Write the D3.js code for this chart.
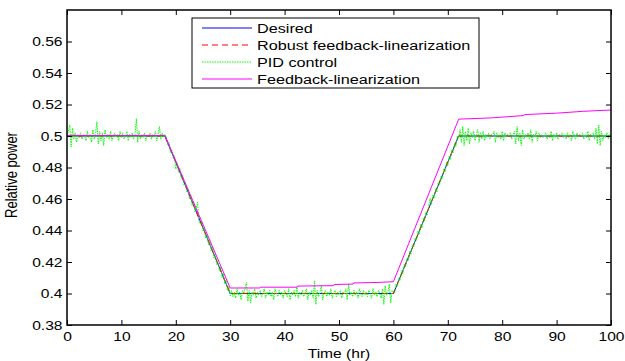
<!DOCTYPE html>
<html>
<head>
<meta charset="utf-8">
<script src="https://cdnjs.cloudflare.com/ajax/libs/d3/7.8.5/d3.min.js"></script>
<style>
  body { margin: 0; background: #fff; }
  svg { display: block; font-family: Arial, "Liberation Sans", sans-serif; }
</style>
</head>
<body>
<div id="vis"></div>
<script>
// series
var desired = [[0, 0.5], [18, 0.5], [30, 0.4], [60, 0.4], [72, 0.5], [100, 0.5]];
var robust = [[0, 0.5], [18, 0.5], [30, 0.4], [60, 0.4], [72, 0.5], [100, 0.5]];
var feedbackLin = [[0, 0.5003], [18, 0.5003], [30, 0.4035], [35.5, 0.4035], [35.6, 0.404], [42.3, 0.404],
    [42.4, 0.4047], [49, 0.405], [49.1, 0.4057], [52.6, 0.406], [52.7, 0.4067], [57, 0.407], [60, 0.4075],
    [72, 0.5107], [78, 0.5115], [84, 0.513], [84.1, 0.5136], [90, 0.5145], [95, 0.5157], [100, 0.5165]];

// PID output, sampled every 0.25 hr from t = 0
var pidStep = 0.25;
var pid = [
    // t 0 - 18
    0.5, 0.503, 0.507, 0.493, 0.505, 0.498, 0.502, 0.496, 0.501, 0.499,
    0.502, 0.498, 0.501, 0.5, 0.497, 0.503, 0.499, 0.501, 0.496, 0.504,
    0.498, 0.502, 0.509, 0.495, 0.503, 0.497, 0.502, 0.494, 0.504, 0.499,
    0.501, 0.498, 0.503, 0.497, 0.5, 0.502, 0.499, 0.501, 0.497, 0.503,
    0.499, 0.502, 0.498, 0.5, 0.503, 0.497, 0.501, 0.499, 0.502, 0.498,
    0.501, 0.511, 0.496, 0.503, 0.498, 0.501, 0.499, 0.502, 0.497, 0.501,
    0.5, 0.502, 0.498, 0.501, 0.499, 0.503, 0.497, 0.501, 0.506, 0.498,
    0.502, 0.499, 0.501,
    // t 18.25 - 30
    0.4995, 0.4945, 0.4960, 0.4895, 0.4915, 0.4860, 0.4875, 0.4790, 0.4830, 0.4770,
    0.4795, 0.4730, 0.4750, 0.4690, 0.4705, 0.4645, 0.4665, 0.4600, 0.4625, 0.4560,
    0.4585, 0.4520, 0.4545, 0.4580, 0.4460, 0.4440, 0.4460, 0.4395, 0.4420, 0.4350,
    0.4375, 0.4310, 0.4335, 0.4270, 0.4295, 0.4225, 0.4250, 0.4185, 0.4210, 0.4145,
    0.4170, 0.4100, 0.4125, 0.4060, 0.4085, 0.4020, 0.4045, 0.3985,
    // t 30.25 - 60
    0.402, 0.398, 0.401, 0.397, 0.403, 0.399, 0.401, 0.396, 0.402, 0.4,
    0.404, 0.407, 0.395, 0.402, 0.394, 0.401, 0.399, 0.403, 0.397, 0.401,
    0.399, 0.402, 0.398, 0.4, 0.403, 0.397, 0.401, 0.399, 0.402, 0.398,
    0.401, 0.396, 0.403, 0.4, 0.398, 0.402, 0.399, 0.401, 0.397, 0.402,
    0.4, 0.398, 0.403, 0.396, 0.401, 0.399, 0.402, 0.398, 0.404, 0.397,
    0.401, 0.399, 0.402, 0.398, 0.4, 0.403, 0.396, 0.401, 0.399, 0.402,
    0.397, 0.408, 0.393, 0.402, 0.398, 0.401, 0.405, 0.396, 0.4, 0.402,
    0.398, 0.401, 0.399, 0.403, 0.397, 0.4, 0.402, 0.398, 0.401, 0.399,
    0.402, 0.397, 0.401, 0.4, 0.403, 0.396, 0.406, 0.399, 0.401, 0.398,
    0.402, 0.399, 0.401, 0.397, 0.403, 0.4, 0.398, 0.402, 0.399, 0.401,
    0.398, 0.402, 0.4, 0.397, 0.403, 0.399, 0.401, 0.398, 0.402, 0.4,
    0.397, 0.403, 0.393, 0.405, 0.399, 0.401, 0.406, 0.394, 0.402, 0.401,
    // t 60.25 - 72
    0.4005, 0.4060, 0.4045, 0.4100, 0.4085, 0.4145, 0.4125, 0.4185, 0.4170, 0.4225,
    0.4210, 0.4270, 0.4250, 0.4310, 0.4295, 0.4350, 0.4335, 0.4395, 0.4375, 0.4440,
    0.4415, 0.4480, 0.4460, 0.4520, 0.4500, 0.4560, 0.4605, 0.4565, 0.4625, 0.4605,
    0.4665, 0.4645, 0.4705, 0.4690, 0.4745, 0.4730, 0.4790, 0.4770, 0.4835, 0.4810,
    0.4870, 0.4850, 0.4915, 0.4895, 0.4955, 0.4935, 0.5000, 0.4985,
    // t 72.25 - 100
    0.504, 0.496, 0.506, 0.494, 0.503, 0.497, 0.505, 0.495, 0.502, 0.499,
    0.503, 0.497, 0.501, 0.504, 0.496, 0.502, 0.498, 0.503, 0.497, 0.501,
    0.499, 0.502, 0.498, 0.501, 0.5, 0.503, 0.496, 0.502, 0.499, 0.501,
    0.498, 0.503, 0.497, 0.502, 0.499, 0.501, 0.5, 0.502, 0.498, 0.501,
    0.503, 0.495, 0.506, 0.497, 0.502, 0.494, 0.504, 0.498, 0.501, 0.499,
    0.502, 0.498, 0.504, 0.496, 0.501, 0.499, 0.503, 0.497, 0.502, 0.499,
    0.501, 0.499, 0.5, 0.502, 0.498, 0.501, 0.499, 0.503, 0.497, 0.501,
    0.499, 0.502, 0.498, 0.501, 0.5, 0.502, 0.499, 0.501, 0.498, 0.502,
    0.499, 0.501, 0.497, 0.503, 0.5, 0.498, 0.502, 0.499, 0.501, 0.5,
    0.502, 0.498, 0.501, 0.499, 0.503, 0.497, 0.501, 0.5, 0.502, 0.498,
    0.505, 0.495, 0.507, 0.494, 0.503, 0.497, 0.501, 0.499, 0.502, 0.498,
    0.501, 0.5
];

var xTicks = [0, 10, 20, 30, 40, 50, 60, 70, 80, 90, 100];
var yTicks = [0.38, 0.4, 0.42, 0.44, 0.46, 0.48, 0.5, 0.52, 0.54, 0.56];
var legendNames = ['Desired', 'Robust feedback-linearization', 'PID control', 'Feedback-linearization'];

var W = 625, H = 361;
var margin = {left: 67, right: 14, top: 10, bottom: 36};
var width = W - margin.left - margin.right;
var height = H - margin.top - margin.bottom;
var stretch = 1.2;   // the original figure is drawn a bit wide

var svg = d3.select('#vis').append('svg')
    .attr('width', W)
    .attr('height', H);

var xScale = d3.scaleLinear().domain([0, 100]).range([0, width]);
var yScale = d3.scaleLinear().domain([0.38, 0.58]).range([height, 0]);

var g = svg.append('g')
    .attr('transform', 'translate(' + margin.left + ',' + margin.top + ')');

g.append('clipPath').attr('id', 'clip')
    .append('rect').attr('width', width).attr('height', height);

var line = d3.line()
    .x(function(d) { return xScale(d[0]); })
    .y(function(d) { return yScale(d[1]); });

var pidPts = pid.map(function(v, i) { return [i * pidStep, v]; });

var series = [
    {data: desired, color: '#0000ff', dash: null, w: 1},
    {data: robust, color: '#ff0000', dash: '6,4', w: 1},
    {data: pidPts, color: '#00ff00', dash: '1.5,1', w: 1},
    {data: feedbackLin, color: '#ff00ff', dash: null, w: 1}
];

var plot = g.append('g').attr('clip-path', 'url(#clip)');
series.forEach(function(s) {
    plot.append('path')
        .datum(s.data)
        .attr('fill', 'none')
        .attr('stroke', s.color)
        .attr('stroke-width', s.w)
        .attr('stroke-dasharray', s.dash)
        .attr('d', line);
});

// axes, matlab style: ticks inside, box all round
var xAxis = d3.axisBottom(xScale).tickValues(xTicks).tickSizeInner(-5).tickSizeOuter(0).tickPadding(7)
    .tickFormat(d3.format('d'));
var yAxis = d3.axisLeft(yScale).tickValues(yTicks).tickSizeInner(-5).tickSizeOuter(0).tickPadding(3.75)
    .tickFormat(function(d) { return d3.format('.2~f')(d); });

var styleAxis = function(a) {
    a.select('.domain').remove();
    a.selectAll('line').attr('stroke', '#000');
    a.selectAll('text').attr('fill', '#000').style('font-size', '13px')
        .style('font-family', 'Arial, "Liberation Sans", sans-serif')
        .attr('transform', 'scale(' + stretch + ',1)');
};

g.append('g').attr('transform', 'translate(0,' + height + ')').call(xAxis).call(styleAxis);
g.append('g').call(yAxis).call(styleAxis);
g.append('g').call(d3.axisTop(xScale).tickValues(xTicks).tickSize(-5).tickFormat(''))
    .call(styleAxis);
g.append('g').attr('transform', 'translate(' + width + ',0)')
    .call(d3.axisRight(yScale).tickValues(yTicks).tickSize(-5).tickFormat(''))
    .call(styleAxis);

g.append('rect')
    .attr('width', width).attr('height', height)
    .attr('fill', 'none').attr('stroke', '#000').attr('stroke-width', 1.5);

svg.append('text')
    .attr('transform', 'translate(' + (margin.left + width / 2) + ',358) scale(' + stretch + ',1)')
    .attr('text-anchor', 'middle').style('font-size', '13px')
    .text('Time (hr)');

svg.append('text')
    .attr('transform', 'translate(17,175) scale(' + stretch + ',1) rotate(-90)')
    .attr('text-anchor', 'middle').style('font-size', '13px')
    .text('Relative power');

// legend
var lg = svg.append('g').attr('transform', 'translate(192,18)');
lg.append('rect').attr('width', 287).attr('height', 70)
    .attr('fill', '#fff').attr('stroke', '#000').attr('stroke-width', 1);
legendNames.forEach(function(name, i) {
    var y = 10 + i * 17;
    lg.append('line')
        .attr('x1', 10).attr('x2', 60).attr('y1', y).attr('y2', y)
        .attr('stroke', series[i].color).attr('stroke-width', 1)
        .attr('stroke-dasharray', i === 2 ? '1.5,1' : series[i].dash);
    lg.append('text')
        .attr('transform', 'translate(65,' + (y + 5) + ') scale(' + stretch + ',1)')
        .style('font-size', '13.5px')
        .text(name);
});
</script>
</body>
</html>
